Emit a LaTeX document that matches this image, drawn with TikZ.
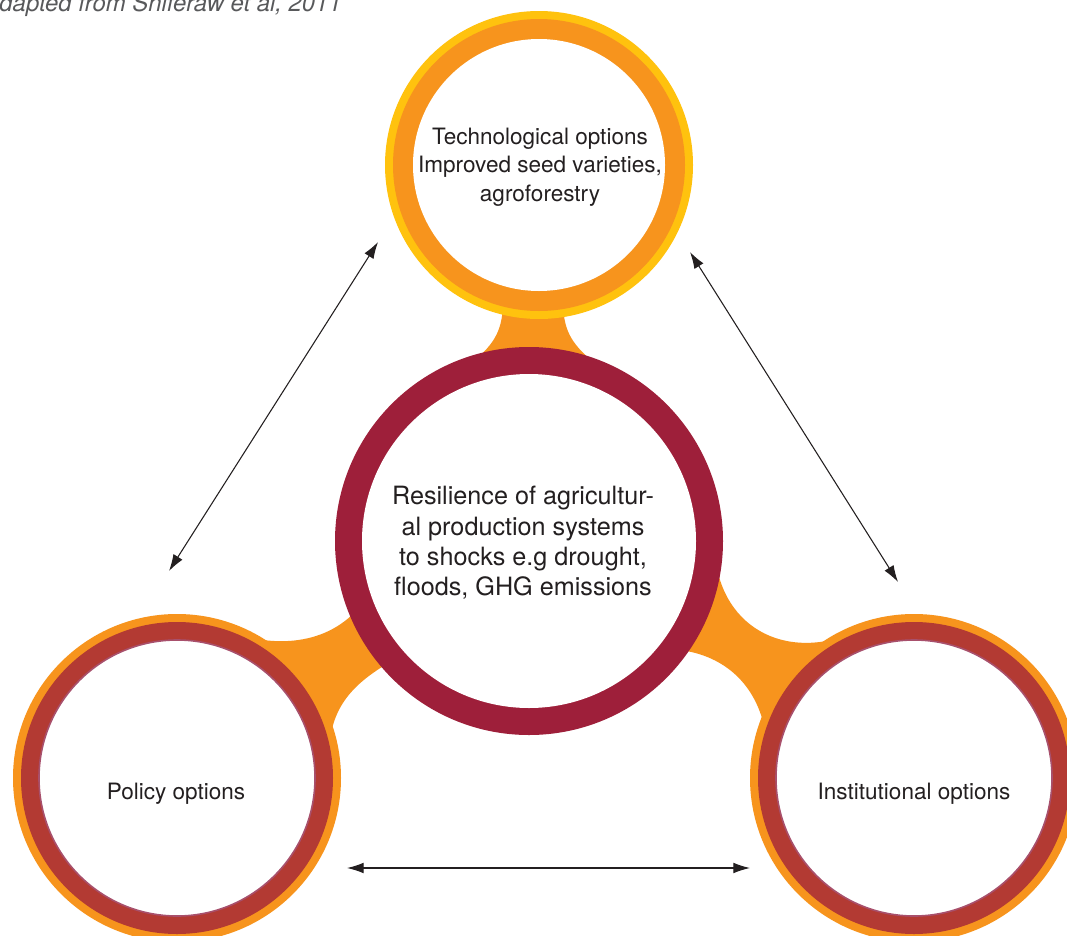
\documentclass[tikz,border=0pt]{standalone}
\usepackage{fontspec}
\setmainfont{TeX Gyre Heros}
\usetikzlibrary{arrows.meta}
\definecolor{orangeC}{HTML}{F7941D}
\definecolor{yellowC}{HTML}{FFC20E}
\definecolor{maroonC}{HTML}{9E1F3A}
\definecolor{redC}{HTML}{B33A33}
\definecolor{pinkC}{HTML}{A8506C}
\definecolor{textC}{HTML}{231F20}
\definecolor{capC}{HTML}{58595B}
\begin{document}
\begin{tikzpicture}[x=0.75pt,y=-0.75pt,
  innerc/.style={circle, fill=white, inner sep=0pt, outer sep=0pt},
  lbl/.style={text=textC, align=center, inner sep=0pt, font=\fontsize{16.9}{21.2}\selectfont},
  biarrow/.style={{Latex[length=12.5pt,width=8pt]}-{Latex[length=12.5pt,width=8pt]}, line width=0.8pt, draw=textC},
  blob/.style={fill=orangeC}]
\useasboundingbox (0,0) rectangle (1067,935);
\clip (0,0) rectangle (1067,935);
\fill[white] (0,0) rectangle (1067,935);

\coordinate (cT) at (539,165);
\coordinate (cM) at (529,541);
\coordinate (cP) at (177,778);
\coordinate (cR) at (914,778);

% orange connecting blobs
\fill[blob] (503,300) .. controls (503,330) and (495,343) .. (473,362) -- (593,362) .. controls (571,343) and (563,330) .. (563,300) -- cycle;
\fill[blob] (225,630) .. controls (262,645) and (318,650) .. (355,612) -- (cM) -- (390,662) .. controls (360,680) and (335,700) .. (330,740) -- (cP) -- cycle;
\fill[blob] (715,555) .. controls (722,630) and (790,665) .. (865,628) -- (cR) -- (765,730) .. controls (755,680) and (720,655) .. (680,650) -- (cM) -- cycle;

% top circle
\fill[yellowC] (cT) circle (154);
\fill[orangeC] (cT) circle (146);
\node[innerc, minimum size=189pt] (tech) at (cT) {};

% central circle
\fill[maroonC] (cM) circle (194);
\node[innerc, minimum size=250.5pt] (core) at (cM) {};

% bottom circles
\fill[orangeC] (cP) circle (164);
\fill[redC] (cP) circle (156);
\node[innerc, draw=pinkC, line width=1.2pt, minimum size=207pt] (policy) at (cP) {};

\fill[orangeC] (cR) circle (164);
\fill[redC] (cR) circle (156);
\node[innerc, draw=pinkC, line width=1.2pt, minimum size=207pt] (inst) at (cR) {};

% texts
\node[lbl] (techtext) at (540,167) {Technological options\\Improved seed varieties,\\agroforestry};
\node[lbl, font=\fontsize{18.9}{22.7}\selectfont] (coretext) at (523,543) {Resilience of agricultur-\\al production systems\\to shocks e.g drought,\\floods, GHG emissions};
\node[lbl] (policytext) at (176,794) {Policy options};
\node[lbl] (insttext) at (914,794) {Institutional options};
\node[anchor=base east, inner sep=0pt, text=capC, font=\fontsize{17.9}{20}\selectfont\itshape] (caption) at (342,11.5) {Adapted from Shiferaw et al, 2011};

% arrows
\coordinate (l1) at (378,242);
\coordinate (l2) at (169,571);
\coordinate (r1) at (690,252);
\coordinate (r2) at (898,582);
\coordinate (b1) at (347,868);
\coordinate (b2) at (750,868);
\draw[biarrow] (l1) -- (l2);
\draw[biarrow] (r1) -- (r2);
\draw[biarrow] (b1) -- (b2);
\end{tikzpicture}
\end{document}
